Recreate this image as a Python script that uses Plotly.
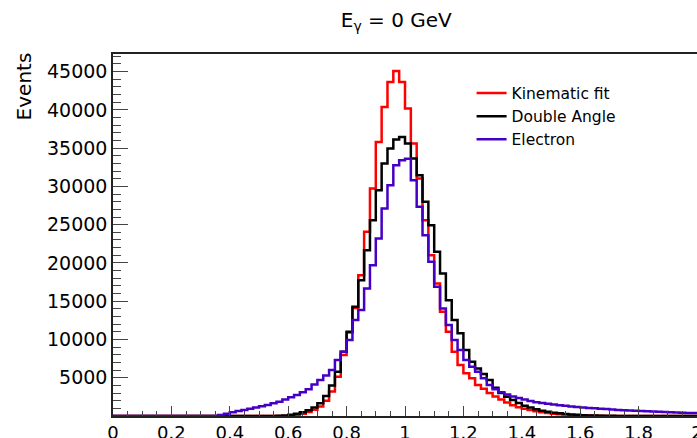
import numpy as np
import plotly.graph_objects as go

# histogram binning: 100 bins between 0 and 2
x_lo, x_hi, n_bins = 0.0, 2.0, 100

# Kinematic fit (red)
kinematic_fit = [
    0, 0, 0, 0, 0, 0, 0, 0, 0, 0,
    0, 0, 0, 0, 0, 0, 0, 0, 0, 0,
    0, 0, 0, 0, 0, 0, 0, 0, 0, 10,
    60, 150, 300, 520, 820, 1250, 2000, 3200, 5140, 7960,
    10900, 14100, 18400, 24060, 29720, 35810, 40380, 43640, 45080, 43640,
    40170, 35600, 31030, 25590, 21020, 17300, 13620, 11010, 8400, 6660,
    5570, 4920, 4050, 3550, 3000, 2550, 2150, 1750, 1400, 1150,
    950, 780, 630, 500, 400, 310, 240, 180, 130, 100,
    70, 50, 35, 25, 15, 10, 8, 6, 5, 4,
    3, 2, 2, 1, 1, 1, 0, 0, 0, 0,
]

# Double Angle (black)
double_angle = [
    0, 0, 0, 0, 0, 0, 0, 0, 0, 0,
    0, 0, 0, 0, 0, 0, 0, 0, 0, 0,
    0, 0, 0, 0, 0, 0, 0, 0, 20, 60,
    150, 300, 500, 760, 1100, 1650, 2600, 4000, 5790, 8400,
    11010, 14270, 17750, 21670, 25590, 29500, 32990, 34950, 36120, 36470,
    35600, 33640, 31460, 27980, 24940, 21450, 18630, 15140, 12530, 10800,
    8620, 7090, 6220, 5500, 4700, 3700, 3000, 2500, 2100, 1700,
    1350, 1100, 880, 700, 560, 440, 350, 270, 200, 150,
    110, 80, 60, 40, 30, 20, 15, 12, 10, 8,
    6, 5, 4, 3, 2, 2, 1, 1, 0, 0,
]

# Electron (blue)
electron = [
    0, 0, 0, 0, 0, 0, 0, 0, 0, 0,
    0, 0, 0, 0, 0, 0, 0, 0, 120, 300,
    480, 640, 800, 950, 1100, 1260, 1450, 1650, 1870, 2150,
    2450, 2750, 3100, 3500, 4100, 4700, 5300, 6000, 7310, 8400,
    9920, 12530, 13840, 16670, 19710, 23190, 27110, 30160, 32770, 33420,
    33600, 30810, 27330, 23630, 20150, 16880, 14060, 11880, 9920, 8620,
    7310, 6440, 5790, 4920, 4050, 3500, 3100, 2800, 2550, 2350,
    2150, 1950, 1800, 1700, 1600, 1500, 1420, 1340, 1250, 1180,
    1100, 1050, 1000, 950, 900, 850, 800, 760, 720, 680,
    640, 610, 580, 550, 520, 490, 460, 430, 400, 380,
]

series = [
    ("Kinematic fit", kinematic_fit, "#ff0000"),
    ("Double Angle", double_angle, "#000000"),
    ("Electron", electron, "#4400c4"),
]

y_ticks = [5000, 10000, 15000, 20000, 25000, 30000, 35000, 40000, 45000]
x_ticks = [0, 0.2, 0.4, 0.6, 0.8, 1, 1.2, 1.4, 1.6, 1.8, 2]

edges = np.linspace(x_lo, x_hi, n_bins + 1)
font = "DejaVu Sans, Liberation Sans, Arial"

fig = go.Figure()
for name, vals, col in series:
    # step outline like a ROOT histogram
    fig.add_trace(go.Scatter(
        x=edges, y=list(vals) + [vals[-1]],
        mode="lines", line_shape="hv",
        line=dict(color=col, width=2.5),
        name=name
    ))

fig.update_layout(
    width=697, height=438,
    margin=dict(l=113, r=0, t=54, b=22),
    paper_bgcolor="white", plot_bgcolor="white",
    font=dict(family=font, color="black"),
    title=dict(text="E<sub>γ</sub> = 0 GeV", x=0.485, xref="paper", xanchor="center",
               y=1 - 20 / 438, yanchor="middle", font=dict(size=20)),
    showlegend=True,
    legend=dict(x=0.614, y=0.938, xanchor="left", yanchor="top",
                bgcolor="rgba(0,0,0,0)", font=dict(size=15.5),
                tracegroupgap=0),
    xaxis=dict(
        range=[x_lo, x_hi], tickvals=x_ticks, ticks="inside", ticklen=10,
        tickfont=dict(size=18), showgrid=False, zeroline=False,
        ticklabeloverflow="allow", automargin=False,
        showline=True, linecolor="#222", linewidth=1.5, mirror=True,
        minor=dict(ticks="inside", ticklen=5, dtick=0.05, showgrid=False),
    ),
    yaxis=dict(
        range=[0, 47300], tickvals=y_ticks, tickformat="d",
        ticks="inside", ticklen=15, automargin=False,
        tickfont=dict(size=19), showgrid=False, zeroline=False,
        showline=True, linecolor="#222", linewidth=1.5, mirror=True,
        minor=dict(ticks="inside", ticklen=8, dtick=1000, showgrid=False),
    ),
    annotations=[dict(
        text="Events", textangle=-90, xref="paper", yref="paper",
        x=-89 / 584, y=1.01, xanchor="center", yanchor="top",
        showarrow=False, font=dict(size=20)
    )],
)

# drop the default page margin so the figure fills the window
fig.write_html("out.html", config={"displayModeBar": False},
               post_script="document.body.style.margin='0px';")
